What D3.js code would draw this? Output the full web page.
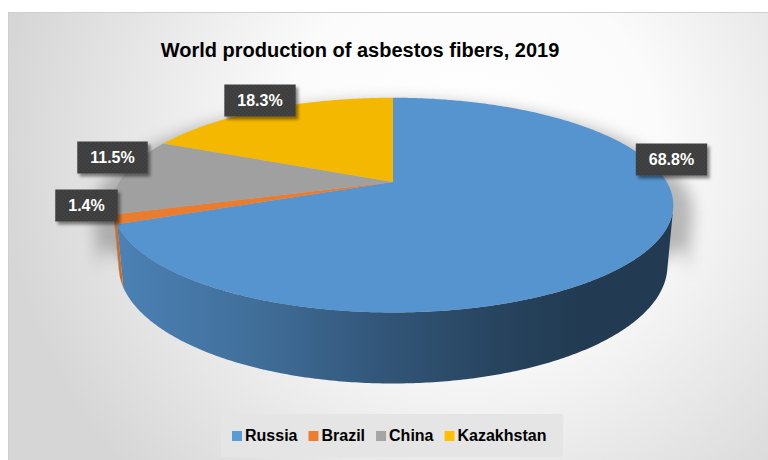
<!DOCTYPE html>
<html>
<head>
<meta charset="utf-8">
<script src="https://cdn.jsdelivr.net/npm/d3@7/dist/d3.min.js"></script>
<style>
  html, body { margin: 0; padding: 0; background: #ffffff; }
  svg { display: block; font-family: "Liberation Sans", Arial, sans-serif; }
</style>
</head>
<body>
<svg id="chart" width="768" height="460"></svg>
<script>
// ---- data ----
const categories = ["Russia", "Brazil", "China", "Kazakhstan"];
const shares = [68.8, 1.4, 11.5, 18.3];          // percent of world production
const titleText = "World production of asbestos fibers, 2019";

// ---- styling ----
const topColors = ["#5694cf", "#e97c2f", "#a0a0a0", "#f5b800"];
const legendColors = ["#5b9bd5", "#ed7d31", "#a5a5a5", "#ffc000"];
// data-label box centres (label layout, chosen like a best-fit placement)
const labelCenters = [[671.5, 159.5], [86.5, 205.5], [112.5, 157.5], [260, 100.5]];

const W = 768, H = 460;
const svg = d3.select("#chart");
const defs = svg.append("defs");

// ---- background panel ----
const bg = defs.append("radialGradient").attr("id", "bgGrad")
  .attr("gradientUnits", "userSpaceOnUse")
  .attr("cx", 470).attr("cy", 150).attr("r", 470);
bg.append("stop").attr("offset", 0).attr("stop-color", "#ffffff");
bg.append("stop").attr("offset", 0.4).attr("stop-color", "#fbfbfb");
bg.append("stop").attr("offset", 1).attr("stop-color", "#d6d6d6");

svg.append("rect").attr("x", 8.5).attr("y", 12.5).attr("width", 780).attr("height", 460)
  .attr("fill", "url(#bgGrad)").attr("stroke", "#cfcfcf").attr("stroke-width", 1);

// ---- title ----
svg.append("text").attr("x", 360).attr("y", 57).attr("text-anchor", "middle")
  .attr("font-size", 20).attr("font-weight", "bold").attr("fill", "#000")
  .text(titleText);

// ---- 3D pie projection ----
const cam = { cx: 393, y0: 182, f: 1180, D: 1, R: 0.232, depth: 0.0547, sin: 0.374 };
cam.cos = Math.sqrt(1 - cam.sin * cam.sin);
function project(theta, r, h) {
  const X = cam.R * r * Math.sin(theta);
  const Z = cam.R * r * Math.cos(theta);
  const Y = -cam.depth * h;
  const d = cam.D + Z * cam.cos - Y * cam.sin;
  return [cam.cx + cam.f * X / d, cam.y0 - cam.f * (Z * cam.sin + Y * cam.cos) / d];
}
function rim(a0, a1, h) {
  const n = Math.max(2, Math.ceil(Math.abs(a1 - a0) / 0.01));
  return d3.range(n + 1).map(i => project(a0 + (a1 - a0) * i / n, 1, h));
}
const line = d3.line();

// outer wall faces the viewer where cos(theta) < -R/(D cos)
const cutoff = Math.acos(-cam.R / (cam.D * cam.cos));
const visA = cutoff, visB = 2 * Math.PI - cutoff;

const arcs = d3.pie().sort(null).value(d => d)(shares);

// ---- shadow ----
const shadowBlur = defs.append("filter").attr("id", "shadowBlur")
  .attr("x", "-20%").attr("y", "-20%").attr("width", "140%").attr("height", "140%");
shadowBlur.append("feGaussianBlur").attr("stdDeviation", 7);

const silhouette = line(rim(0, 2 * Math.PI, 0)) + "Z" +
  line(rim(visA, visB, 0).concat(rim(visB, visA, 1))) + "Z" +
  line(rim(0, 2 * Math.PI, 1)) + "Z";
svg.append("path").attr("d", silhouette)
  .attr("transform", `translate(${cam.cx},${258}) scale(1.07,1.03) translate(${-cam.cx},${-250})`)
  .attr("fill", "#808080").attr("opacity", 0.55).attr("filter", "url(#shadowBlur)");

// ---- side walls ----
const sideShade = [[113, 0.88], [258, 0.74], [392, 0.57], [526, 0.43], [585, 0.4], [690, 0.4]];
const xExt = [113, 690];
arcs.forEach((a, i) => {
  const s0 = Math.max(a.startAngle, visA), s1 = Math.min(a.endAngle, visB);
  if (s1 <= s0) return;
  const g = defs.append("linearGradient").attr("id", "side" + i)
    .attr("gradientUnits", "userSpaceOnUse")
    .attr("x1", xExt[0]).attr("x2", xExt[1]).attr("y1", 0).attr("y2", 0);
  const base = d3.rgb(topColors[i]);
  sideShade.forEach(([x, k]) => {
    g.append("stop").attr("offset", (x - xExt[0]) / (xExt[1] - xExt[0]))
      .attr("stop-color", d3.rgb(base.r * k, base.g * k, base.b * k));
  });
  svg.append("path")
    .attr("d", line(rim(s0, s1, 0).concat(rim(s1, s0, 1))) + "Z")
    .attr("fill", `url(#side${i})`);
});

// ---- top faces ----
const apex = project(0, 0, 0);
arcs.forEach((a, i) => {
  svg.append("path")
    .attr("d", line([apex].concat(rim(a.startAngle, a.endAngle, 0))) + "Z")
    .attr("fill", topColors[i]);
});

// ---- data labels ----
const dots = defs.append("pattern").attr("id", "dots").attr("patternUnits", "userSpaceOnUse")
  .attr("width", 4).attr("height", 4);
dots.append("rect").attr("width", 4).attr("height", 4).attr("fill", "#3e3e3e");
dots.append("circle").attr("cx", 1).attr("cy", 1).attr("r", 0.7).attr("fill", "#4c4c4c");
dots.append("circle").attr("cx", 3).attr("cy", 3).attr("r", 0.7).attr("fill", "#4c4c4c");

const boxShadow = defs.append("filter").attr("id", "boxShadow")
  .attr("x", "-20%").attr("y", "-30%").attr("width", "150%").attr("height", "170%");
boxShadow.append("feDropShadow").attr("dx", 2.5).attr("dy", 3).attr("stdDeviation", 1.8)
  .attr("flood-color", "#000").attr("flood-opacity", 0.45);

const fmt = v => d3.format(".1f")(v) + "%";
arcs.forEach((a, i) => {
  const [x, y] = labelCenters[i];
  const g = svg.append("g");
  const rect = g.append("rect").attr("fill", "url(#dots)").attr("filter", "url(#boxShadow)");
  const t = g.append("text").attr("x", x).attr("y", y + 5.5).attr("text-anchor", "middle")
    .attr("font-size", 16).attr("font-weight", "bold").attr("fill", "#ffffff")
    .text(fmt(a.data));
  const w = t.node().getComputedTextLength() + 26, h = 32;
  rect.attr("x", x - w / 2).attr("y", y - h / 2).attr("width", w).attr("height", h);
});

// ---- legend ----
const legend = svg.append("g");
legend.append("rect").attr("x", 221).attr("y", 414).attr("width", 342).attr("height", 43)
  .attr("fill", "#e5e5e5");
let lx = 232;
categories.forEach((c, i) => {
  legend.append("rect").attr("x", lx).attr("y", 431).attr("width", 10).attr("height", 10)
    .attr("fill", legendColors[i]);
  const t = legend.append("text").attr("x", lx + 13).attr("y", 441)
    .attr("font-size", 16).attr("font-weight", "bold").attr("fill", "#000").text(c);
  lx += 13 + t.node().getComputedTextLength() + 11;
});
</script>
</body>
</html>
